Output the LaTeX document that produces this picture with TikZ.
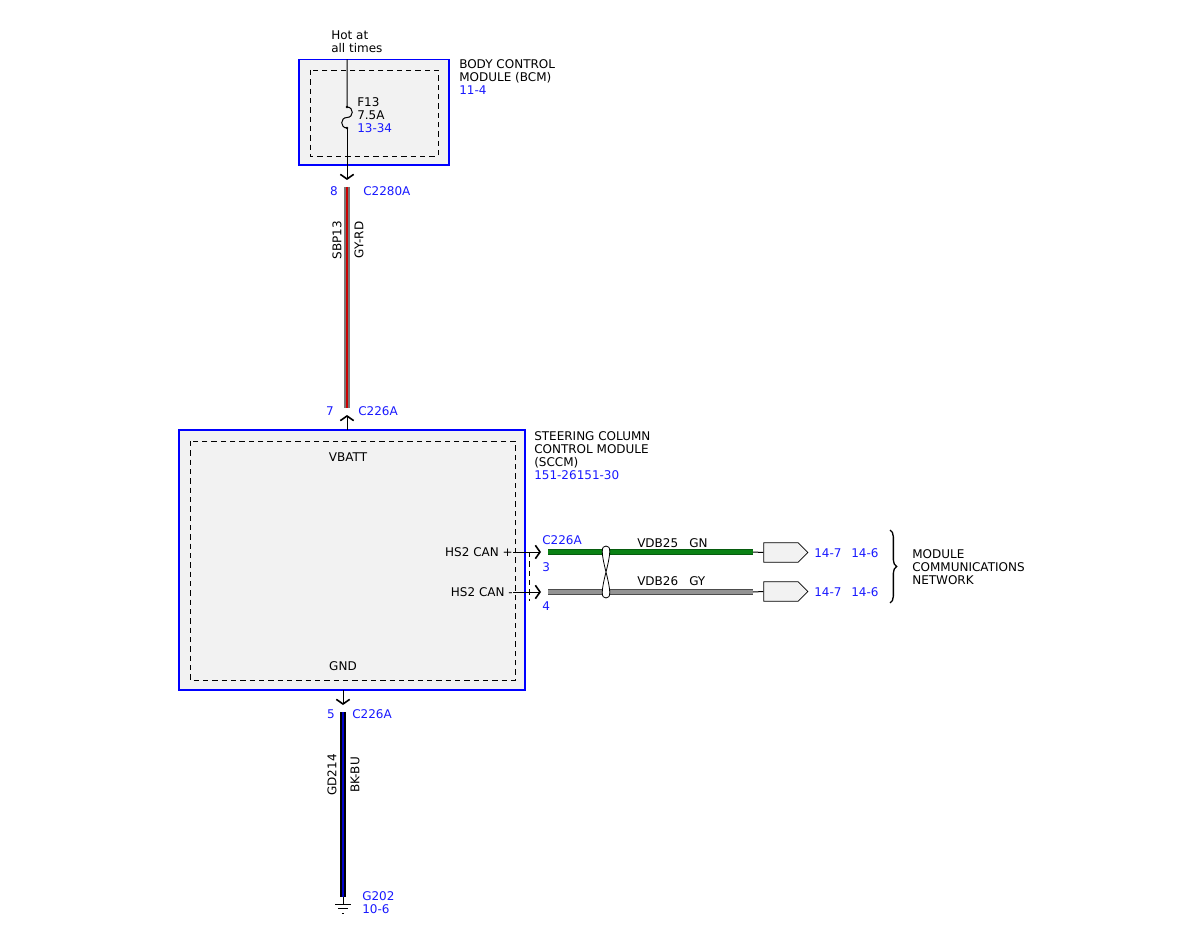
\documentclass[tikz,border=0pt]{standalone}
\usepackage{fontspec}
\setmainfont{DejaVu Sans}
\usepackage{xcolor}
\usetikzlibrary{arrows.meta,calc,positioning,shapes.symbols,decorations.pathreplacing}
\newcommand{\myunit}{0.75pt}
\definecolor{pinblue}{RGB}{25,25,255}
\definecolor{modfill}{RGB}{242,242,242}
\definecolor{wiregray}{RGB}{120,120,120}
\definecolor{wiregreen}{RGB}{10,130,20}
\tikzset{
    modsty/.style={draw=blue,fill=modfill,line width=0.8pt},
    dashsty/.style={draw=black,line width=0.6pt,dash pattern=on 4pt off 3pt},
    txtsty/.style={font=\fontsize{9}{9.75}\selectfont,inner sep=0pt,align=left},
    blusty/.style={txtsty,text=pinblue},
    vertsty/.style={txtsty,rotate=90},
    pinsty/.style={draw=black,line width=0.75pt},
    gyrdsty/.style={draw=wiregray,double=red!80!black,line width=1.6pt,double distance=1.2pt},
    bkbusty/.style={draw=black,double=blue!80!black,line width=1.8pt,double distance=1.3pt},
    gnsty/.style={draw=wiregreen!70!black,double=wiregreen,line width=0.4pt,double distance=3.6pt},
    gysty/.style={draw=gray!60!black,double=gray!85,line width=0.5pt,double distance=3.4pt},
    connsty/.style={signal,signal to=east,signal pointer angle=90,draw=black,fill=modfill,
        line width=0.6pt,minimum width=33pt,minimum height=14.5pt,inner sep=0pt},
}

\begin{document}
\begin{tikzpicture}[x=\myunit,y=-\myunit,>={Straight Barb[length=3.5pt,width=10pt,line width=1.2pt]}]
\useasboundingbox (0,0) rectangle (1200,927);
% body control module
\draw[modsty] (299,59.5) rectangle (449,165);
\draw[dashsty] (310,70) rectangle (438,156);
\node[txtsty,anchor=south west] (hot) at (331,53) {Hot at\\all times};
\node[txtsty,anchor=north west] (bcm) at (459,59) {BODY CONTROL\\MODULE (BCM)\\\textcolor{pinblue}{11-4}};
\coordinate (feed) at (347,59.5);
\coordinate (fusea) at (347,107);
\coordinate (fusem) at (347,117.5);
\coordinate (fuseb) at (347,128);
\coordinate (pin8) at (347,180);
\draw[pinsty] (feed) -- (fusea) .. controls +(7,0) and +(7,0) .. (fusem)
    .. controls +(-7,0) and +(-7,0) .. (fuseb);
\fill (fusea) circle (1.3);
\fill (fuseb) circle (1.3);
\draw[pinsty,->] (fuseb) -- (pin8);
\node[txtsty,anchor=north west] (fuse) at (357,97) {F13\\7.5A\\\textcolor{pinblue}{13-34}};

% SBP13 feed
\coordinate (sbpa) at (347,187);
\coordinate (sbpb) at (347,408);
\draw[gyrdsty] (sbpa) -- (sbpb);
\node[blusty,anchor=east] (n8) at (338,191) {8};
\node[blusty,anchor=west] (c2280) at (363,191) {C2280A};
\node[vertsty] (sbp) at (337,240) {SBP13};
\node[vertsty] (gyrd) at (359,240) {GY-RD};
\node[blusty,anchor=east] (n7) at (334,411) {7};
\node[blusty,anchor=west] (c226t) at (358,411) {C226A};

% steering column control module
\draw[modsty] (179,430) rectangle (525,690);
\draw[dashsty] (190,441) rectangle (515,680);
\node[txtsty,anchor=north west] (sccm) at (534,431) {STEERING COLUMN\\CONTROL MODULE\\(SCCM)\\\textcolor{pinblue}{151-26151-30}};
\coordinate (vbatt) at (347,430);
\coordinate (pin7) at (347,415);
\draw[pinsty,->] (vbatt) -- (pin7);
\node[txtsty] (vb) at (348,457) {VBATT};
\node[txtsty] (gndl) at (343,666) {GND};

% HS2 CAN
\node[txtsty,anchor=east] (canp) at (513,552) {HS2 CAN +};
\node[txtsty,anchor=east] (canm) at (513,592) {HS2 CAN -};
\coordinate (pin3) at (541,552);
\coordinate (pin4) at (541,592);
\draw[pinsty,->] (canp.east) -- (pin3);
\draw[pinsty,->] (canm.east) -- (pin4);
\draw[dashsty] (529,552) -- (529,601);
\node[blusty,anchor=west] (c226r) at (542,540) {C226A};
\node[blusty,anchor=west] (n3) at (542,567) {3};
\node[blusty,anchor=west] (n4) at (542,606) {4};
\coordinate (gna) at (548,552);
\coordinate (gnb) at (753,552);
\coordinate (gya) at (548,592);
\coordinate (gyb) at (753,592);
\draw[gnsty] (gna) -- (gnb);
\draw[gysty] (gya) -- (gyb);
\node[txtsty,anchor=west] (vdb25) at (637,543) {VDB25};
\node[txtsty,anchor=west] (gn) at (689,543) {GN};
\node[txtsty,anchor=west] (vdb26) at (637,581) {VDB26};
\node[txtsty,anchor=west] (gy) at (689,581) {GY};
% twisted pair
\coordinate (twa) at (606,546);
\coordinate (twm) at (606,572);
\coordinate (twb) at (606,598);
\draw[pinsty,line width=0.6pt,fill=white] (twa) .. controls (601,546) and (601,552) .. (twm)
    .. controls (611,592) and (611,598) .. (twb) .. controls (601,598) and (601,592) .. (twm)
    .. controls (611,552) and (611,546) .. (twa);

% network
\node[connsty] (net1) at (781,552.5) {};
\node[connsty] (net2) at (781,591.5) {};
\draw[pinsty] (gnb) -- (net1.west);
\draw[pinsty] (gyb) -- (net2.west);
\node[blusty,anchor=west] (r1a) at (814,553) {14-7};
\node[blusty,anchor=west] (r1b) at (851,553) {14-6};
\node[blusty,anchor=west] (r2a) at (814,592) {14-7};
\node[blusty,anchor=west] (r2b) at (851,592) {14-6};
\coordinate (bra) at (890,530);
\coordinate (brb) at (890,603);
\draw[pinsty,line width=1pt,decorate,decoration={brace,amplitude=5pt}] (bra) -- (brb);
\node[txtsty,anchor=north west] (mcn) at (912,549) {MODULE\\COMMUNICATIONS\\NETWORK};

% ground
\coordinate (gnd) at (343,690);
\coordinate (pin5) at (343,705);
\draw[pinsty,->] (gnd) -- (pin5);
\node[blusty,anchor=east] (n5) at (335,714) {5};
\node[blusty,anchor=west] (c226b) at (352,714) {C226A};
\coordinate (gda) at (343,712);
\coordinate (gdb) at (343,897);
\draw[bkbusty] (gda) -- (gdb);
\node[vertsty] (gd) at (332,775) {GD214};
\node[vertsty] (bkbu) at (355,775) {BK-BU};
\coordinate (g202) at (343,904);
\draw[pinsty,line width=0.6pt] (gdb) -- (g202);
\draw[pinsty,line width=0.6pt] ($(g202)+(-8,0)$) -- ($(g202)+(8,0)$);
\draw[pinsty,line width=0.6pt] ($(g202)+(-5,4.5)$) -- ($(g202)+(5,4.5)$);
\draw[pinsty,line width=0.6pt] ($(g202)+(-1.2,9)$) -- ($(g202)+(1.2,9)$);
\node[blusty,anchor=west] (g202l) at (362,896) {G202};
\node[blusty,anchor=west] (g202r) at (362,909) {10-6};
\end{tikzpicture}
\end{document}
